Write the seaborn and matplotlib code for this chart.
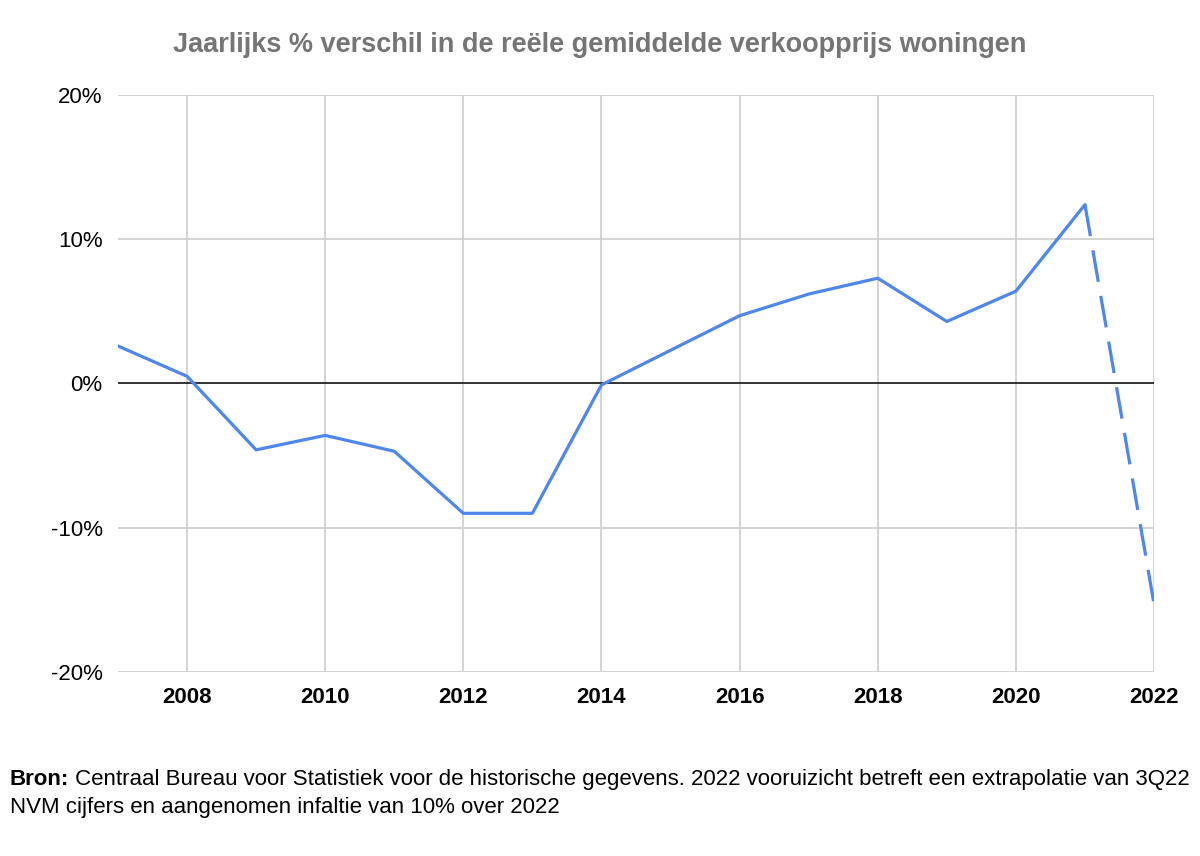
import matplotlib
matplotlib.use("Agg")
import matplotlib.pyplot as plt
import seaborn as sns
import pandas as pd

jaren = [2007, 2008, 2009, 2010, 2011, 2012, 2013, 2014, 2015,
         2016, 2017, 2018, 2019, 2020, 2021, 2022]
verschil = [2.6, 0.5, -4.6, -3.6, -4.7, -9.0, -9.0, -0.1, 2.3,
            4.7, 6.2, 7.3, 4.3, 6.4, 12.4, -15.3]
xticks = [2008, 2010, 2012, 2014, 2016, 2018, 2020, 2022]
yticks = [-20, -10, 0, 10, 20]

df = pd.DataFrame({"jaar": jaren, "verschil": verschil})
hist = df.iloc[:-1]        # historisch, doorgetrokken lijn
prognose = df.iloc[-2:]    # 2022 vooruitzicht, gestippeld

sns.set_style("white")
plt.rcParams["font.family"] = ["Liberation Sans", "DejaVu Sans"]
plt.rcParams["text.color"] = "black"
plt.rcParams["xtick.color"] = "black"
plt.rcParams["ytick.color"] = "black"
blauw = "#4f86ec"

fig = plt.figure(figsize=(12, 8.56), dpi=100)
ax = fig.add_axes([0.0983, 0.215, 0.8634, 0.674])

sns.lineplot(data=hist, x="jaar", y="verschil", color=blauw, lw=2.3, ax=ax)
sns.lineplot(data=prognose, x="jaar", y="verschil", color=blauw, lw=2.3,
             ax=ax, dashes=False, linestyle=(0, (10, 4.5)))

ax.set_xlim(2007, 2022)
ax.set_ylim(-20, 20)
ax.set_xticks(xticks)
ax.set_xticklabels([str(j) for j in xticks], fontweight="bold", fontsize=16)
ax.set_yticks(yticks)
ax.set_yticklabels([f"{v}%" for v in yticks], fontsize=16)
ax.tick_params(axis="both", length=0)
ax.tick_params(axis="x", pad=11)
ax.tick_params(axis="y", pad=11)

for y in yticks:
    if y != 0:
        ax.axhline(y, color="#cccccc", lw=1.2, zorder=0)
for x in xticks:
    ax.axvline(x, color="#cccccc", lw=1.2, zorder=0)
ax.axhline(0, color="#222222", lw=1.3, zorder=1)

for s in ax.spines.values():
    s.set_visible(False)
ax.set_xlabel("")
ax.set_ylabel("")

fig.text(0.5, 0.947, "Jaarlijks % verschil in de reële gemiddelde verkoopprijs woningen",
         ha="center", va="center", fontsize=19.5, fontweight="bold", color="#757575")

bron = fig.text(0.008, 0.089, "Bron:", fontsize=16, fontweight="bold", va="center")
ax.annotate(" Centraal Bureau voor Statistiek voor de historische gegevens. "
            "2022 vooruizicht betreft een extrapolatie van 3Q22",
            xy=(1, 0.5), xycoords=bron, va="center", ha="left", fontsize=16,
            annotation_clip=False)
fig.text(0.008, 0.057, "NVM cijfers en aangenomen infaltie van 10% over 2022",
         fontsize=16, va="center")

fig.savefig("out.png", dpi=100, facecolor="white")
